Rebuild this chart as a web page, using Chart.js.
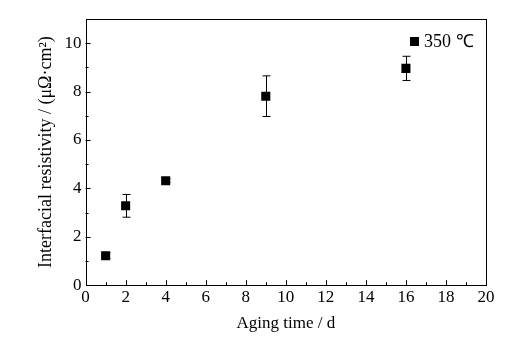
<!DOCTYPE html>
<html>
<head>
<meta charset="utf-8">
<script src="https://cdn.jsdelivr.net/npm/chart.js@4/dist/chart.umd.min.js"></script>
<style>
  body { margin: 0; background: #fff; }
  #wrap { width: 515px; height: 340px; }
</style>
</head>
<body>
<div id="wrap"><canvas id="myChart"></canvas></div>
<script>
// datos
const agingDays = [1, 2, 4, 9, 16]
const resistivity = [1.22, 3.28, 4.32, 7.81, 8.96]
const errorBar = [0.12, 0.47, 0.08, 0.84, 0.5]
const seriesLabel = '350 \u2103'
const xTitle = 'Aging time / d'
const yTitle = 'Interfacial resistivity / (\u03bc\u03a9\u00b7cm\u00b2)'

const serif = "'Liberation Serif', 'Times New Roman', serif"

// barras de error con las escalas del grafico
const errorBars = {
  id: 'errorBars',
  afterDatasetsDraw(chart) {
    const { ctx, scales: { x, y } } = chart
    ctx.save()
    ctx.strokeStyle = '#000'
    ctx.lineWidth = 1
    agingDays.forEach((d, i) => {
      const px = Math.round(x.getPixelForValue(d)) + 0.5
      const top = y.getPixelForValue(resistivity[i] + errorBar[i])
      const bot = y.getPixelForValue(resistivity[i] - errorBar[i])
      ctx.beginPath()
      ctx.moveTo(px, top); ctx.lineTo(px, bot)
      ctx.moveTo(px - 4, top); ctx.lineTo(px + 4, top)
      ctx.moveTo(px - 4, bot); ctx.lineTo(px + 4, bot)
      ctx.stroke()
    })
    ctx.restore()
  }
}

// leyenda dentro del area del grafico, arriba a la derecha
const innerLegend = {
  id: 'innerLegend',
  afterDraw(chart) {
    const { ctx, chartArea: a } = chart
    const label = chart.data.datasets[0].label
    ctx.save()
    ctx.font = '18px ' + serif
    ctx.fillStyle = '#000'
    ctx.textBaseline = 'middle'
    ctx.textAlign = 'left'
    const ty = a.top + 23
    ctx.fillText(label, a.right - 62, ty)
    ctx.fillRect(a.right - 76, ty - 5, 9, 9)
    ctx.restore()
  }
}

// marco y ticks hacia adentro
const frame = {
  id: 'frame',
  afterDraw(chart) {
    const { ctx, chartArea: a, scales: { x, y } } = chart
    ctx.save()
    ctx.strokeStyle = '#000'
    ctx.lineWidth = 1
    ctx.strokeRect(Math.round(a.left) + 0.5, Math.round(a.top) + 0.5,
      Math.round(a.right - a.left), Math.round(a.bottom - a.top))
    ctx.beginPath()
    for (let v = 1; v < 20; v++) {
      const px = Math.round(x.getPixelForValue(v)) + 0.5
      const len = v % 2 === 0 ? 5 : 3
      ctx.moveTo(px, a.bottom); ctx.lineTo(px, a.bottom - len)
    }
    for (let v = 1; v <= 10; v++) {
      const py = Math.round(y.getPixelForValue(v)) + 0.5
      const len = v % 2 === 0 ? 5 : 3
      ctx.moveTo(a.left, py); ctx.lineTo(a.left + len, py)
    }
    ctx.stroke()
    ctx.restore()
  }
}

const canvas = document.querySelector('#myChart')
const myChart = new Chart(canvas, {
  type: 'scatter',
  data: {
    datasets: [{
      label: seriesLabel,
      data: agingDays.map((d, i) => ({ x: d, y: resistivity[i] })),
      pointStyle: 'rect',
      pointRadius: 6.4,
      pointHoverRadius: 6.4,
      backgroundColor: '#000',
      borderColor: '#000',
      borderWidth: 0
    }]
  },
  options: {
    responsive: true,
    maintainAspectRatio: false,
    animation: false,
    layout: { padding: { top: 19, right: 29, left: 31, bottom: 2 } },
    plugins: {
      tooltip: { enabled: false },
      legend: { display: false }
    },
    scales: {
      x: {
        type: 'linear',
        min: 0,
        max: 20,
        ticks: { stepSize: 2, color: '#000', font: { family: serif, size: 17 }, padding: 2 },
        grid: { display: false, drawTicks: false },
        border: { display: false },
        title: { display: true, text: xTitle, color: '#000', font: { family: serif, size: 17 }, padding: { top: 4 } }
      },
      y: {
        min: 0,
        max: 11,
        ticks: { color: '#000', font: { family: serif, size: 17 }, padding: 4 },
        afterBuildTicks: axis => { axis.ticks = [0, 2, 4, 6, 8, 10].map(v => ({ value: v })) },
        grid: { display: false, drawTicks: false },
        border: { display: false },
        title: { display: true, text: yTitle, color: '#000', font: { family: serif, size: 18 }, padding: { bottom: 4 } }
      }
    }
  },
  plugins: [errorBars, innerLegend, frame]
})
</script>
</body>
</html>
